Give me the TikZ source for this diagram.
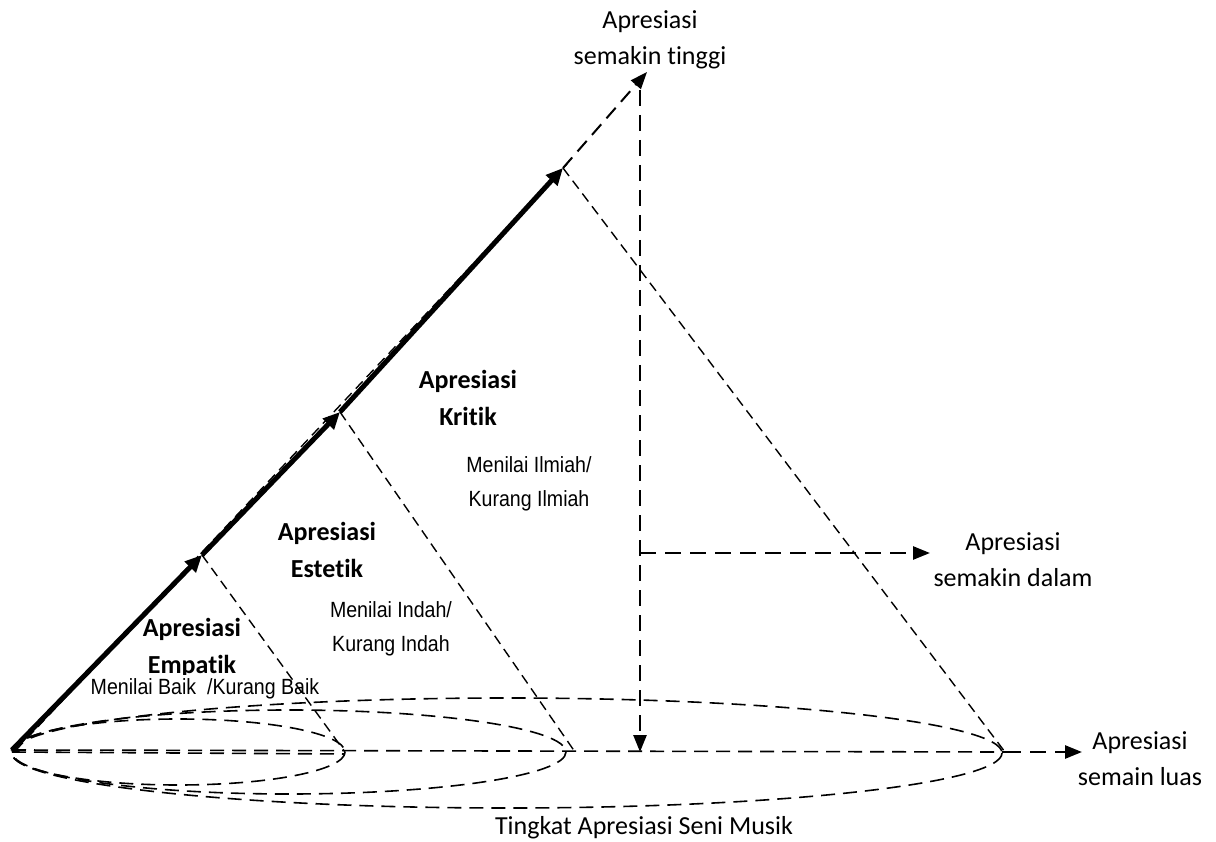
\documentclass[tikz,border=0pt]{standalone}
\usepackage{fontspec}
\setmainfont{Carlito}[Ligatures=NoCommon]
\newfontfamily\narrowfont[FakeStretch=0.89]{Liberation Sans}
\usetikzlibrary{arrows.meta}
\tikzset{
  lbl/.style={align=center, inner sep=0pt, font=\fontsize{26}{36}\selectfont},
  blbl/.style={align=center, inner sep=0pt, font=\fontsize{26}{37}\selectfont\bfseries},
  nlbl/.style={align=center, inner sep=0pt, font=\narrowfont\fontsize{22}{34}\selectfont},
  thindash/.style={line width=1.4pt, dash pattern=on 10pt off 6pt},
  elldash/.style={line width=1.6pt, dash pattern=on 14pt off 8pt},
  heavydash/.style={line width=2.6pt, dash pattern=on 16pt off 9pt},
  mainline/.style={line width=5pt},
  tip/.style={-{Triangle[length=17pt,width=15pt]}},
  smalltip/.style={-{Triangle[length=17pt,width=13pt]}}
}
\begin{document}
\begin{tikzpicture}[x=1pt,y=-1pt]
\useasboundingbox (0,0) rectangle (1216,842);
% coordinates
\coordinate (O) at (12,750);
\coordinate (A1) at (202,555);
\coordinate (A2) at (340,412);
\coordinate (A3) at (563,168);
\coordinate (Top) at (647,72);
\coordinate (B1) at (345,752);
\coordinate (B2) at (575,752);
\coordinate (B3) at (1005,752);
\coordinate (Rt) at (1082,752);
\coordinate (V0) at (640,90);
\coordinate (V1) at (640,752);
\coordinate (H0) at (640,553);
\coordinate (H1) at (930,553);

% labels
\node[lbl] (ltop) at (650,40) {Apresiasi\\semakin tinggi};
\node[lbl] (ldalam) at (1013,560) {Apresiasi\\semakin dalam};
\node[lbl] (lluas) at (1140,759) {Apresiasi\\semain luas};
\node[lbl] (ltitle) at (644,828) {Tingkat Apresiasi Seni Musik};
\node[blbl] (lkritik) at (468,398) {Apresiasi\\Kritik};
\node[blbl] (lestetik) at (327,550) {Apresiasi\\Estetik};
\node[blbl, font=\fontsize{26}{37}\selectfont\bfseries] (lempatik) at (192,648) {Apresiasi\\Empatik};
\node[nlbl] (nilmiah) at (529,484) {Menilai Ilmiah/\\Kurang Ilmiah};
\node[nlbl] (nindah) at (391,629) {Menilai Indah/\\Kurang Indah};
\node[nlbl, fill=white, inner xsep=4pt, inner ysep=4pt] (nbaik) at (205,689) {Menilai Baik \ /Kurang Baik};

% ellipses
\draw[elldash] (178,752) ellipse [x radius=167, y radius=33];
\draw[elldash] (289,752) ellipse [x radius=277, y radius=42];
\draw[elldash] (507,753) ellipse [x radius=495, y radius=55];

% baseline
\draw[elldash] (O) -- (B3);
\draw[elldash] ([yshift=-2]O) -- ([yshift=-2]B1);
\draw[heavydash, smalltip] (B3) -- (Rt);

% triangles
\draw[thindash] (A1) -- (B1);
\draw[thindash] (A2) -- (B2);
\draw[thindash] (A3) -- (B3);
\draw[thindash] ([xshift=4]O) -- ([xshift=4,yshift=4]A3);

% main thick line with arrows
\draw[mainline, tip] (O) -- (A1);
\draw[mainline, tip] (A1) -- (A2);
\draw[mainline, tip] (A2) -- (A3);
\draw[line width=2pt, dash pattern=on 14pt off 8pt, smalltip] (A3) -- (Top);

% vertical and branch
\draw[heavydash, smalltip] (V0) -- (V1);
\draw[heavydash, smalltip] (H0) -- (H1);
\end{tikzpicture}
\end{document}
